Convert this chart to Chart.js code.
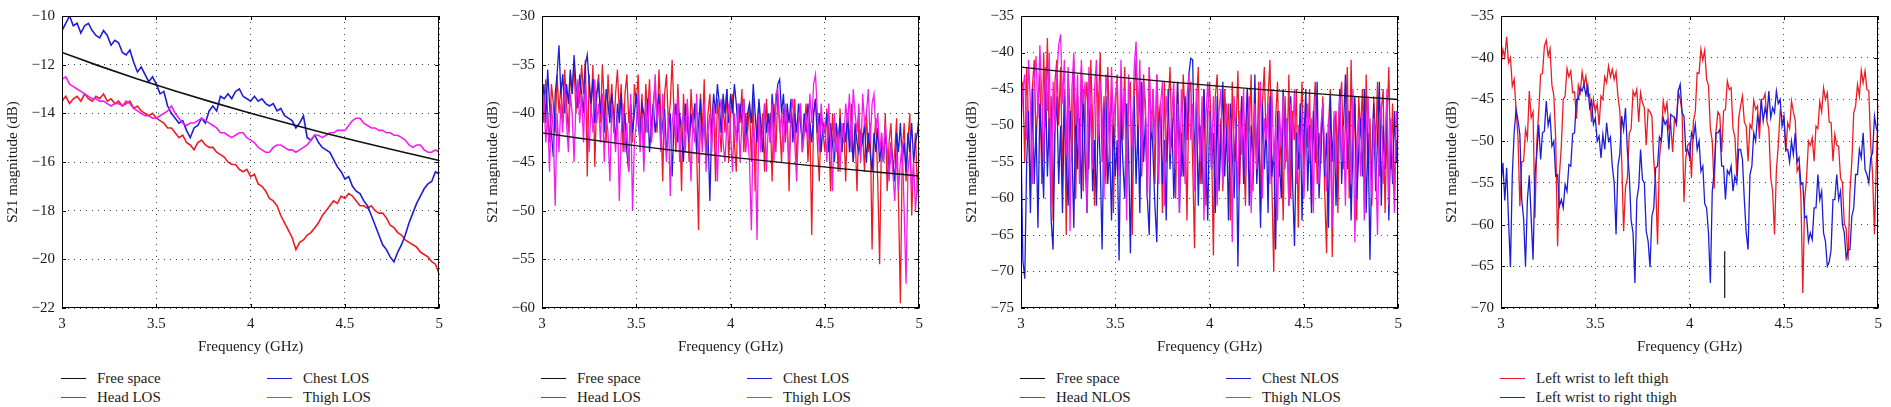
<!DOCTYPE html>
<html>
<head>
<meta charset="utf-8">
<script src="https://cdn.jsdelivr.net/npm/chart.js@4.4.1/dist/chart.umd.min.js"></script>
<style>
  body { margin: 0; background: #fff; width: 1891px; height: 407px; overflow: hidden; position: relative; font-family: "Liberation Serif", "DejaVu Serif", serif; }
  .panel { position: absolute; top: 0; width: 450px; height: 360px; }
  .leg { position: absolute; font-size: 15px; line-height: 18px; white-space: nowrap; color: #1a1a1a; }
  .leg i { position: absolute; left: -36px; top: 9px; width: 25px; height: 0; border-top: 1.5px solid; }
</style>
</head>
<body>
<script>
// frequency grids (GHz)
const FREQ_FS = [3, 3.2, 3.4, 3.6, 3.8, 4, 4.2, 4.4, 4.6, 4.8, 5];
const FREQ_COARSE = [
  3, 3.02, 3.04, 3.06, 3.08, 3.1, 3.12, 3.14, 3.16, 3.18,
  3.2, 3.22, 3.24, 3.26, 3.28, 3.3, 3.32, 3.34, 3.36, 3.38,
  3.4, 3.42, 3.44, 3.46, 3.48, 3.5, 3.52, 3.54, 3.56, 3.58,
  3.6, 3.62, 3.64, 3.66, 3.68, 3.7, 3.72, 3.74, 3.76, 3.78,
  3.8, 3.82, 3.84, 3.86, 3.88, 3.9, 3.92, 3.94, 3.96, 3.98,
  4, 4.02, 4.04, 4.06, 4.08, 4.1, 4.12, 4.14, 4.16, 4.18,
  4.2, 4.22, 4.24, 4.26, 4.28, 4.3, 4.32, 4.34, 4.36, 4.38,
  4.4, 4.42, 4.44, 4.46, 4.48, 4.5, 4.52, 4.54, 4.56, 4.58,
  4.6, 4.62, 4.64, 4.66, 4.68, 4.7, 4.72, 4.74, 4.76, 4.78,
  4.8, 4.82, 4.84, 4.86, 4.88, 4.9, 4.92, 4.94, 4.96, 4.98,
  5
];
const FREQ_FINE = [
  3, 3.01, 3.02, 3.03, 3.04, 3.05, 3.06, 3.07, 3.08, 3.09,
  3.1, 3.11, 3.12, 3.13, 3.14, 3.15, 3.16, 3.17, 3.18, 3.19,
  3.2, 3.21, 3.22, 3.23, 3.24, 3.25, 3.26, 3.27, 3.28, 3.29,
  3.3, 3.31, 3.32, 3.33, 3.34, 3.35, 3.36, 3.37, 3.38, 3.39,
  3.4, 3.41, 3.42, 3.43, 3.44, 3.45, 3.46, 3.47, 3.48, 3.49,
  3.5, 3.51, 3.52, 3.53, 3.54, 3.55, 3.56, 3.57, 3.58, 3.59,
  3.6, 3.61, 3.62, 3.63, 3.64, 3.65, 3.66, 3.67, 3.68, 3.69,
  3.7, 3.71, 3.72, 3.73, 3.74, 3.75, 3.76, 3.77, 3.78, 3.79,
  3.8, 3.81, 3.82, 3.83, 3.84, 3.85, 3.86, 3.87, 3.88, 3.89,
  3.9, 3.91, 3.92, 3.93, 3.94, 3.95, 3.96, 3.97, 3.98, 3.99,
  4, 4.01, 4.02, 4.03, 4.04, 4.05, 4.06, 4.07, 4.08, 4.09,
  4.1, 4.11, 4.12, 4.13, 4.14, 4.15, 4.16, 4.17, 4.18, 4.19,
  4.2, 4.21, 4.22, 4.23, 4.24, 4.25, 4.26, 4.27, 4.28, 4.29,
  4.3, 4.31, 4.32, 4.33, 4.34, 4.35, 4.36, 4.37, 4.38, 4.39,
  4.4, 4.41, 4.42, 4.43, 4.44, 4.45, 4.46, 4.47, 4.48, 4.49,
  4.5, 4.51, 4.52, 4.53, 4.54, 4.55, 4.56, 4.57, 4.58, 4.59,
  4.6, 4.61, 4.62, 4.63, 4.64, 4.65, 4.66, 4.67, 4.68, 4.69,
  4.7, 4.71, 4.72, 4.73, 4.74, 4.75, 4.76, 4.77, 4.78, 4.79,
  4.8, 4.81, 4.82, 4.83, 4.84, 4.85, 4.86, 4.87, 4.88, 4.89,
  4.9, 4.91, 4.92, 4.93, 4.94, 4.95, 4.96, 4.97, 4.98, 4.99,
  5
];

// panel 1 (LOS, dB)
const P1_FREE = [-11.5, -12.06, -12.59, -13.08, -13.55, -14.0, -14.42, -14.83, -15.21, -15.58, -15.94];
const P1_HEAD = [
  -13.5, -13.3, -13.6, -13.4, -13.3, -13.5, -13.2, -13.4, -13.5, -13.3,
  -13.4, -13.2, -13.5, -13.4, -13.6, -13.5, -13.7, -13.6, -13.5, -13.8,
  -13.7, -13.9, -14.0, -14.1, -14.0, -14.2, -14.3, -14.4, -14.6, -14.6,
  -14.8, -15.0, -14.9, -15.2, -15.3, -15.5, -15.2, -15.1, -15.3, -15.4,
  -15.4, -15.6, -15.7, -15.8, -16.0, -16.1, -16.1, -16.3, -16.4, -16.3,
  -16.6, -16.5, -16.9, -17.0, -17.2, -17.5, -17.6, -17.8, -18.2, -18.5,
  -18.8, -19.1, -19.6, -19.3, -19.2, -19.0, -18.9, -18.7, -18.5, -18.2,
  -18.0, -17.8, -17.6, -17.7, -17.4, -17.5, -17.3, -17.4, -17.6, -17.8,
  -17.8, -17.9, -17.8, -18.0, -18.1, -18.1, -18.3, -18.6, -18.7, -18.9,
  -19.0, -19.2, -19.3, -19.4, -19.5, -19.7, -19.8, -19.9, -20.1, -20.2,
  -20.6
];
const P1_CHEST = [
  -10.6, -10.3, -10.0, -10.4, -10.3, -10.7, -10.4, -10.3, -10.6, -10.8,
  -10.9, -10.6, -10.8, -11.2, -11.0, -11.1, -11.5, -11.6, -11.4, -11.9,
  -12.3, -12.1, -12.4, -12.7, -12.5, -12.8, -13.2, -13.1, -13.7, -14.0,
  -14.2, -14.4, -14.3, -14.7, -15.0, -14.6, -14.5, -14.2, -14.4, -13.9,
  -13.7, -13.9, -13.3, -13.4, -13.2, -13.4, -13.1, -13.0, -13.3, -13.4,
  -13.5, -13.3, -13.5, -13.4, -13.6, -13.7, -13.6, -13.9, -13.8, -14.1,
  -14.2, -14.3, -14.6, -14.4, -14.1, -15.0, -15.1, -14.9, -15.2, -15.4,
  -15.5, -15.6, -15.9, -16.2, -16.4, -16.7, -16.6, -17.0, -17.2, -17.3,
  -17.6, -17.8, -18.2, -18.6, -19.0, -19.4, -19.6, -19.9, -20.1, -19.7,
  -19.4, -19.0, -18.5, -18.1, -17.7, -17.4, -17.1, -16.9, -16.8, -16.4,
  -16.5
];
const P1_THIGH = [
  -12.6, -12.5, -12.8, -12.9, -13.0, -13.1, -13.2, -13.3, -13.4, -13.4,
  -13.5, -13.5, -13.6, -13.7, -13.6, -13.6, -13.7, -13.5, -13.6, -13.8,
  -13.9, -14.0, -14.1, -14.1, -14.2, -14.2, -14.1, -14.0, -13.9, -13.7,
  -14.0, -14.2, -14.4, -14.5, -14.4, -14.4, -14.3, -14.2, -14.3, -14.4,
  -14.5, -14.6, -14.8, -14.8, -14.9, -15.0, -14.9, -14.8, -14.8, -15.0,
  -15.1, -15.2, -15.4, -15.5, -15.6, -15.6, -15.4, -15.3, -15.3, -15.4,
  -15.5, -15.5, -15.6, -15.5, -15.4, -15.3, -15.1, -14.9, -14.9, -15.0,
  -14.9, -14.8, -14.8, -14.7, -14.7, -14.7, -14.5, -14.3, -14.2, -14.2,
  -14.4, -14.5, -14.6, -14.6, -14.7, -14.7, -14.8, -14.8, -14.9, -14.9,
  -15.0, -15.1, -15.3, -15.4, -15.3, -15.3, -15.5, -15.6, -15.6, -15.5,
  -15.6
];

// panel 2 (LOS, dB)
const P2_FREE = [-42, -42.56, -43.09, -43.58, -44.05, -44.5, -44.92, -45.33, -45.71, -46.08, -46.44];
const P2_HEAD = [
  -38, -41, -36.5, -40, -43, -37, -39, -42, -36, -40,
  -37, -41, -35.5, -39, -42, -36, -38, -35, -40, -37,
  -39, -35, -38, -34.5, -46.5, -36, -40, -35, -45.5, -38,
  -36, -41, -35, -39, -43, -36, -40, -37, -42, -38,
  -35.5, -40, -37, -44, -38, -36, -41, -39, -43, -37,
  -39, -36, -42, -38, -45, -37, -40, -36.5, -43, -39,
  -37, -42, -35.5, -40, -47, -38, -36, -41, -39, -34.5,
  -40, -44, -37, -41, -48, -38, -42, -39, -45, -37.5,
  -41, -39, -44, -52, -38, -42, -36.5, -45, -40, -38,
  -43, -39, -47, -38.5, -41, -44, -39, -42, -37.5, -45,
  -40, -38, -43, -46, -39, -41, -37.5, -44, -40, -42,
  -39, -45, -38.5, -48, -41, -39, -43, -40, -46, -38.5,
  -42, -40, -47, -39, -44, -38, -41, -45, -39.5, -43,
  -40, -48, -39, -42, -38.5, -45, -41, -39, -44, -42,
  -39, -45, -41, -52.5, -40, -38.5, -43, -47, -40, -42,
  -44, -39.5, -42, -48, -40, -43, -41, -46, -39.5, -44,
  -41, -47, -40, -43, -39, -45, -42, -48, -40.5, -44,
  -42, -46, -40, -44, -41, -54, -43, -40.5, -47, -55.5,
  -42, -45, -40, -48, -43, -41, -46, -44, -40.5, -49,
  -59.5, -44, -41, -47, -43, -40, -50.5, -45, -42, -48,
  -44
];
const P2_CHEST = [
  -40, -37, -41, -35.5, -39, -42, -44.5, -38, -36, -33,
  -38, -36, -40, -37, -39, -35.5, -38, -34, -37, -39.5,
  -36, -38, -40, -35, -34, -37, -39, -36.5, -41, -38,
  -37, -40, -38, -42, -37.5, -39, -41, -38, -40, -43,
  -39, -41, -38, -42, -40, -44, -46, -39, -42, -40,
  -38, -41, -43, -39, -40, -42, -38.5, -44, -41, -39,
  -42, -40, -38, -43, -41, -39.5, -44, -42, -40, -46.5,
  -41, -39, -43, -40, -42, -45, -39, -41, -43, -40,
  -42, -39, -44, -41, -38.5, -43, -40, -45, -42, -49,
  -41, -38, -40, -37, -39, -42, -38, -40, -37.5, -41,
  -38, -40, -37, -39, -42, -39, -41, -38.5, -43, -40,
  -39, -41, -37, -40, -43, -38.5, -41, -44, -39, -42,
  -40, -43, -38, -41, -39, -37, -36.5, -40, -38, -42,
  -39, -41, -38.5, -43, -40, -42, -39, -41, -43, -40,
  -42, -39, -41, -43, -40, -38.5, -42, -40, -44, -41,
  -42, -40, -44, -41, -43, -45, -41, -43, -40.5, -44,
  -41, -43, -40, -44, -42, -45, -41, -43, -44, -42,
  -43, -41, -45, -42, -44, -46, -42, -44, -41.5, -45,
  -43, -45, -42, -44, -46, -43, -45, -47, -42, -44,
  -41, -45, -43, -46, -42, -44, -41, -45, -43, -42,
  -40
];
const P2_THIGH = [
  -41, -38, -43, -40, -46, -39, -42, -49.5, -40, -44,
  -39, -42, -37, -41, -44, -38, -40, -45, -39, -36.5,
  -41, -38, -43, -37, -40, -44, -39, -42, -36.5, -41,
  -39, -43, -38, -45, -40, -42, -47, -39, -41, -44,
  -40, -49, -42, -39, -44, -41, -46, -38, -50, -43,
  -41, -38, -44, -40, -46, -39, -42, -37.5, -43, -40,
  -36, -41, -39, -44, -38, -42, -45, -40, -48.5, -41,
  -39, -43, -38, -45, -41, -40, -44, -38.5, -42, -47,
  -40, -43, -38, -45, -41, -44, -39, -46, -42, -40,
  -44, -39, -42, -47, -40, -38.5, -43, -45, -41, -39,
  -42, -46, -40, -43, -39, -45, -41, -38.5, -44, -42,
  -45, -52, -41, -43, -53, -40, -44, -42, -39, -46,
  -41, -43, -39, -45, -38, -37.5, -42, -40, -44, -39,
  -42, -45, -40, -38.5, -43, -47, -41, -39, -44, -42,
  -40, -43, -38, -41, -37, -36, -40, -44, -39, -42,
  -41, -45, -39, -43, -48, -40, -44, -42, -46, -41,
  -43, -39, -41, -38, -44, -37.5, -40, -42, -39, -45,
  -38, -41, -40, -37.5, -43, -39, -38, -42, -40, -44,
  -42, -45, -41, -44, -47, -43, -46, -49, -44, -48,
  -45, -43, -50, -57.5, -46, -44, -48, -45, -50, -47,
  -50
];

// panel 3 (NLOS, dB)
const P3_FREE = [-42, -42.56, -43.09, -43.58, -44.05, -44.5, -44.92, -45.33, -45.71, -46.08, -46.44];
const P3_HEAD = [
  -47, -44, -55, -42, -50, -60, -45, -41, -52, -47,
  -43, -58, -40, -49, -38, -53, -46, -63, -44, -41,
  -50, -42, -57, -45, -65, -43, -48, -55, -41, -60,
  -46, -53, -42, -59, -47, -44, -56, -41, -50, -61,
  -43, -48, -40, -55, -46, -58, -42, -51, -45, -62,
  -48, -43, -56, -45, -52, -42, -59, -47, -44, -65,
  -46, -41, -54, -44, -57, -43, -49, -60, -42, -52,
  -45, -58, -43, -50, -47, -62, -44, -55, -48, -42,
  -53, -46, -60, -44, -51, -57, -43, -49, -63, -46,
  -44, -55, -66.8, -47, -42, -58, -50, -45, -61, -48,
  -44, -52, -67.8, -46, -43, -56, -49, -59, -45, -51,
  -47, -63, -44, -55, -50, -42.5, -58, -46, -53, -61,
  -45, -51, -43, -59, -48, -56, -44, -62, -47, -42,
  -53, -46, -41, -58, -70, -49, -44, -57, -51, -63,
  -46, -55, -43, -60, -48, -52, -45, -64, -50, -44,
  -57, -47, -53, -45, -61, -49, -44, -58, -51, -55,
  -46, -59, -67.5, -50, -45, -68, -53, -48, -62, -47,
  -44, -56, -50, -42, -60, -41, -54, -47, -63, -46,
  -51, -45, -58, -43, -55, -49, -61, -46, -53, -44,
  -57, -48, -45, -62, -50, -42, -56, -47, -59, -52,
  -55
];
const P3_CHEST = [
  -52, -68.5, -71, -55, -48, -62, -45, -58, -50, -64,
  -47, -53, -60, -44, -57, -49, -63, -67, -51, -46,
  -58, -50, -62, -46, -55, -61, -48, -53, -64, -47,
  -56, -49, -60, -45, -54, -62, -50, -47, -59, -52,
  -61, -48, -55, -67, -50, -46, -58, -53, -63, -49,
  -57, -52, -68.5, -48, -55, -60, -47, -53, -67.5, -51,
  -46, -58, -50, -62, -44, -55, -49, -60, -65, -48,
  -54, -61, -66, -50, -47, -58, -52, -63, -45, -56,
  -49, -60, -53, -44, -62, -51, -57, -46, -52, -43,
  -40.8, -41, -55, -47, -61, -50, -58, -45, -53, -63,
  -48, -56, -51, -62, -46, -59, -52, -44, -57, -50,
  -63, -47, -54, -60, -49, -69.3, -53, -46, -58, -51,
  -45, -61, -50, -55, -43, -58, -52, -64, -47, -56,
  -50, -62, -46, -57, -53, -67, -48, -55, -60, -45,
  -54, -49, -61, -46, -58, -66.5, -51, -56, -47, -63,
  -52, -45, -59, -50, -62, -48, -55, -44, -60, -53,
  -47, -57, -51, -64, -46, -55, -49, -61, -53, -45,
  -58, -50, -43, -56, -48, -63, -52, -46, -60, -54,
  -49, -57, -45, -62, -51, -68.4, -55, -47, -59, -52,
  -44, -61, -50, -56, -46, -63, -52, -58, -48, -55,
  -50
];
const P3_THIGH = [
  -50, -45, -43, -52, -41, -47, -58, -44, -40.5, -49,
  -39, -46, -55, -42, -48, -40, -61, -44, -51, -43,
  -39, -37.5, -47, -41, -54, -42, -64.5, -45, -40, -50,
  -43, -58, -41, -47, -44, -62, -42, -49, -56, -45,
  -41, -52, -44, -48, -60, -43, -46, -55, -42, -50,
  -46, -44, -57, -41, -50, -45, -63, -43, -48, -53,
  -42, -38.5, -49, -41, -56, -44, -47, -60, -42, -51,
  -45, -52, -43, -58, -47, -44, -61, -46, -50, -54,
  -48, -44, -56, -47, -62, -45, -51, -58, -46, -43,
  -52, -47, -59, -45, -50, -55, -46, -63, -49, -44,
  -50, -56, -46, -53, -61, -48, -45, -58, -51, -47,
  -55, -49, -66, -46, -52, -59, -48, -54, -45, -57,
  -50, -46, -62, -53, -47, -56, -51, -44, -60, -49,
  -52, -47, -58, -45, -55, -50, -63, -48, -53, -46,
  -56, -49, -61, -47, -52, -45, -58, -50, -54, -48,
  -60, -51, -47, -55, -49, -62, -46, -53, -58, -50,
  -47, -54, -59, -49, -52, -64, -48, -56, -51, -46,
  -55, -50, -61, -47, -53, -58, -45, -66, -52, -49,
  -57, -48, -63, -51, -46, -55, -60, -49, -54, -65,
  -50, -47, -58, -53, -45, -61, -49, -55, -62, -48,
  -52
];

// panel 4 (wrist to thigh, dB)
const P4_LEFT = [
  -40.9, -39.0, -39.9, -37.5, -40.6, -40.0, -43.4, -42.6, -46.2, -49.5,
  -57.8, -52.5, -52.4, -48.6, -49.7, -44.0, -47.2, -46.5, -59.2, -50.0,
  -46.5, -42.0, -41.9, -38.6, -37.9, -39.8, -38.9, -43.3, -44.5, -49.7,
  -62.6, -54.0, -50.5, -45.0, -44.6, -41.3, -42.3, -41.6, -44.2, -44.1,
  -47.3, -43.3, -44.2, -41.7, -43.2, -42.2, -44.6, -44.4, -47.7, -45.0,
  -46.5, -45.5, -48.1, -44.6, -45.0, -42.3, -43.0, -41.0, -42.3, -41.4,
  -42.6, -41.7, -44.6, -46.4, -52.4, -60.8, -55.5, -54.4, -49.1, -48.5,
  -44.0, -44.6, -43.8, -47.7, -44.2, -45.4, -46.0, -50.5, -46.2, -46.5,
  -47.0, -52.4, -55.0, -62.4, -52.0, -49.7, -45.2, -46.5, -45.4, -48.5,
  -48.0, -51.3, -47.2, -47.7, -44.1, -45.0, -46.5, -57.3, -52.0, -50.5,
  -50.2, -54.4, -47.6, -46.5, -41.8, -41.9, -39.0, -40.3, -39.1, -42.6,
  -43.3, -48.5, -50.0, -55.7, -48.8, -46.5, -46.9, -51.3, -46.4, -46.2,
  -42.8, -43.8, -43.6, -48.5, -49.5, -54.2, -47.3, -45.8, -44.6, -47.7,
  -48.2, -52.4, -48.0, -48.5, -45.1, -46.2, -45.8, -49.7, -45.0, -45.0,
  -44.3, -47.7, -48.5, -54.4, -56.0, -61.2, -53.5, -50.5, -46.4, -47.0,
  -47.1, -51.3, -47.8, -48.5, -45.2, -46.5, -47.5, -53.6, -53.0, -56.7,
  -68.2, -57.0, -54.4, -50.0, -50.5, -49.6, -52.4, -48.2, -48.5, -45.3,
  -46.5, -43.6, -45.0, -44.2, -47.7, -47.8, -52.4, -49.2, -50.5, -50.6,
  -54.4, -55.0, -59.9, -60.5, -64.3, -56.0, -52.4, -46.6, -45.8, -43.2,
  -44.6, -41.5, -43.0, -41.6, -43.8, -44.0, -50.5, -54.0, -61.2, -52.4,
  -45.5
];
const P4_RIGHT = [
  -55.0, -52.6, -57.1, -53.2, -59.5, -65.1, -54.0, -48.9, -46.2, -47.5,
  -49.2, -57.0, -59.3, -65.0, -57.0, -54.1, -59.2, -64.2, -54.0, -51.4,
  -48.0, -52.2, -49.0, -48.8, -45.2, -48.1, -47.0, -50.6, -50.0, -54.2,
  -54.0, -57.8, -57.0, -58.0, -55.2, -56.0, -52.8, -53.0, -49.1, -49.0,
  -45.0, -45.0, -43.6, -44.0, -43.2, -44.5, -43.3, -46.0, -45.2, -48.0,
  -47.2, -50.0, -49.4, -52.0, -49.2, -51.0, -47.8, -50.0, -49.5, -53.0,
  -55.0, -61.2, -53.0, -51.5, -47.0, -48.6, -46.0, -51.2, -54.0, -59.5,
  -61.0, -67.0, -57.0, -55.5, -51.0, -54.6, -55.0, -60.8, -62.0, -65.1,
  -59.0, -58.0, -53.2, -53.0, -49.5, -50.0, -47.2, -48.0, -47.5, -51.0,
  -46.8, -47.0, -47.2, -48.0, -44.0, -43.2, -46.6, -47.0, -51.2, -51.0,
  -52.0, -49.0, -49.6, -48.0, -51.0, -50.0, -53.6, -53.0, -57.5, -58.0,
  -61.0, -67.0, -56.0, -53.6, -49.0, -49.0, -48.6, -53.0, -53.0, -57.0,
  -53.5, -54.0, -53.0, -56.0, -54.2, -55.0, -51.0, -51.0, -52.2, -57.0,
  -61.0, -63.0, -54.0, -53.0, -49.0, -50.0, -47.0, -48.0, -45.0, -47.6,
  -46.0, -47.0, -44.0, -47.2, -46.0, -46.6, -44.0, -45.5, -45.0, -48.2,
  -47.0, -51.0, -51.0, -52.5, -50.0, -51.6, -49.0, -52.5, -52.0, -55.2,
  -55.0, -59.2, -59.0, -62.0, -61.0, -61.8, -58.0, -58.0, -54.0, -57.0,
  -56.0, -61.0, -62.0, -65.0, -64.5, -63.0, -57.0, -57.0, -54.0, -57.0,
  -56.0, -60.0, -61.0, -64.0, -63.0, -63.0, -59.0, -58.0, -54.0, -54.0,
  -51.0, -52.0, -49.0, -53.4, -54.0, -55.0, -52.0, -51.4, -47.0, -48.5,
  -49.0
];
const P4_MARK_X = [4.186, 4.186];
const P4_MARK_Y = [-63.2, -68.8];

const RED = '#ec1c24', BLUE = '#1d1dd8', MAGENTA = '#f21cf0', BLACK = '#111';
const FONT = { family: '"Liberation Serif", "DejaVu Serif", serif', size: 15 };

const pts = (xs, ys) => xs.map((x, i) => ({ x, y: ys[i] }));

const PANELS = [
  {
    plotLeft: 62, yMin: -22, yMax: -10, yStep: 2, width: 1.6,
    series: [
      { label: 'Free space', x: FREQ_FS, y: P1_FREE, color: BLACK, order: 0 },
      { label: 'Head LOS', x: FREQ_COARSE, y: P1_HEAD, color: RED, order: 3 },
      { label: 'Chest LOS', x: FREQ_COARSE, y: P1_CHEST, color: BLUE, order: 2 },
      { label: 'Thigh LOS', x: FREQ_COARSE, y: P1_THIGH, color: MAGENTA, order: 1 }
    ]
  },
  {
    plotLeft: 542, yMin: -60, yMax: -30, yStep: 5, width: 1.3,
    series: [
      { label: 'Free space', x: FREQ_FS, y: P2_FREE, color: BLACK, order: 0 },
      { label: 'Head LOS', x: FREQ_FINE, y: P2_HEAD, color: RED, order: 3 },
      { label: 'Chest LOS', x: FREQ_FINE, y: P2_CHEST, color: BLUE, order: 2 },
      { label: 'Thigh LOS', x: FREQ_FINE, y: P2_THIGH, color: MAGENTA, order: 1 }
    ]
  },
  {
    plotLeft: 1021, yMin: -75, yMax: -35, yStep: 5, width: 1.3,
    series: [
      { label: 'Free space', x: FREQ_FS, y: P3_FREE, color: BLACK, order: 0 },
      { label: 'Head NLOS', x: FREQ_FINE, y: P3_HEAD, color: RED, order: 3 },
      { label: 'Chest NLOS', x: FREQ_FINE, y: P3_CHEST, color: BLUE, order: 2 },
      { label: 'Thigh NLOS', x: FREQ_FINE, y: P3_THIGH, color: MAGENTA, order: 1 }
    ]
  },
  {
    plotLeft: 1501, yMin: -70, yMax: -35, yStep: 5, width: 1.3,
    series: [
      { label: 'Left wrist to left thigh', x: FREQ_FINE, y: P4_LEFT, color: RED, order: 2 },
      { label: 'Left wrist to right thigh', x: FREQ_FINE, y: P4_RIGHT, color: BLUE, order: 1 },
      { label: null, x: P4_MARK_X, y: P4_MARK_Y, color: BLACK, order: 0 }
    ]
  }
];

// legend slots: [dx from plot left, row centre y]
const LEGEND_SLOTS_4 = [[35, 378], [35, 397], [241, 378], [241, 397]];
const LEGEND_SLOTS_2 = [[35, 378], [35, 397]];

// box around the plot plus inward tick marks (MATLAB style)
const boxPlugin = {
  id: 'box',
  afterDraw(chart) {
    const { ctx, chartArea: a, scales: { x, y } } = chart;
    ctx.save();
    ctx.strokeStyle = '#000';
    ctx.lineWidth = 1;
    ctx.strokeRect(Math.round(a.left) + 0.5, Math.round(a.top) + 0.5, Math.round(a.width) - 1, Math.round(a.height) - 1);
    ctx.beginPath();
    x.ticks.forEach(t => {
      const px = Math.round(x.getPixelForValue(t.value)) + 0.5;
      ctx.moveTo(px, a.bottom); ctx.lineTo(px, a.bottom - 4);
      ctx.moveTo(px, a.top); ctx.lineTo(px, a.top + 4);
    });
    y.ticks.forEach(t => {
      const py = Math.round(y.getPixelForValue(t.value)) + 0.5;
      ctx.moveTo(a.left, py); ctx.lineTo(a.left + 4, py);
      ctx.moveTo(a.right, py); ctx.lineTo(a.right - 4, py);
    });
    ctx.stroke();
    ctx.restore();
  }
};

PANELS.forEach(p => {
  const div = document.createElement('div');
  div.className = 'panel';
  div.style.left = (p.plotLeft - 62) + 'px';
  const canvas = document.createElement('canvas');
  canvas.width = 450; canvas.height = 360;
  div.appendChild(canvas);
  document.body.appendChild(div);

  const datasets = p.series.map(s => ({
    label: s.label || '',
    data: pts(s.x, s.y),
    borderColor: s.color,
    borderWidth: s.label ? p.width : 1.2,
    pointRadius: 0,
    tension: 0,
    fill: false,
    order: s.order
  }));

  new Chart(canvas, {
    type: 'line',
    data: { datasets },
    options: {
      responsive: false,
      animation: false,
      layout: { padding: { top: 10, right: 8, left: 0, bottom: 0 } },
      plugins: { legend: { display: false }, tooltip: { enabled: false } },
      scales: {
        x: {
          type: 'linear', min: 3, max: 5,
          ticks: { stepSize: 0.5, padding: 7, color: '#1a1a1a', font: FONT, maxRotation: 0, callback: v => String(v) },
          grid: { color: '#444', drawTicks: false },
          border: { display: false, dash: [1, 5] },
          title: { display: true, text: 'Frequency (GHz)', color: '#1a1a1a', font: FONT, padding: { top: 4, bottom: 4 } },
          afterFit: s => { s.height = 52; }
        },
        y: {
          type: 'linear', min: p.yMin, max: p.yMax,
          ticks: { stepSize: p.yStep, padding: 7, color: '#1a1a1a', font: FONT, callback: v => String(v).replace('-', '\u2212') },
          grid: { color: '#444', drawTicks: false },
          border: { display: false, dash: [1, 5] },
          title: { display: true, text: 'S21 magnitude (dB)', color: '#1a1a1a', font: FONT, padding: { top: 4, bottom: 4 } },
          afterFit: s => { s.width = 62; }
        }
      }
    },
    plugins: [boxPlugin]
  });

  // legend as real text below each panel
  const items = p.series.filter(s => s.label);
  const slots = items.length === 4 ? LEGEND_SLOTS_4 : LEGEND_SLOTS_2;
  items.forEach((s, i) => {
    const el = document.createElement('div');
    el.className = 'leg';
    el.style.left = (p.plotLeft + slots[i][0]) + 'px';
    el.style.top = (slots[i][1] - 9) + 'px';
    const line = document.createElement('i');
    line.style.borderTopColor = s.color;
    el.appendChild(line);
    el.appendChild(document.createTextNode(s.label));
    document.body.appendChild(el);
  });
});
</script>
</body>
</html>
